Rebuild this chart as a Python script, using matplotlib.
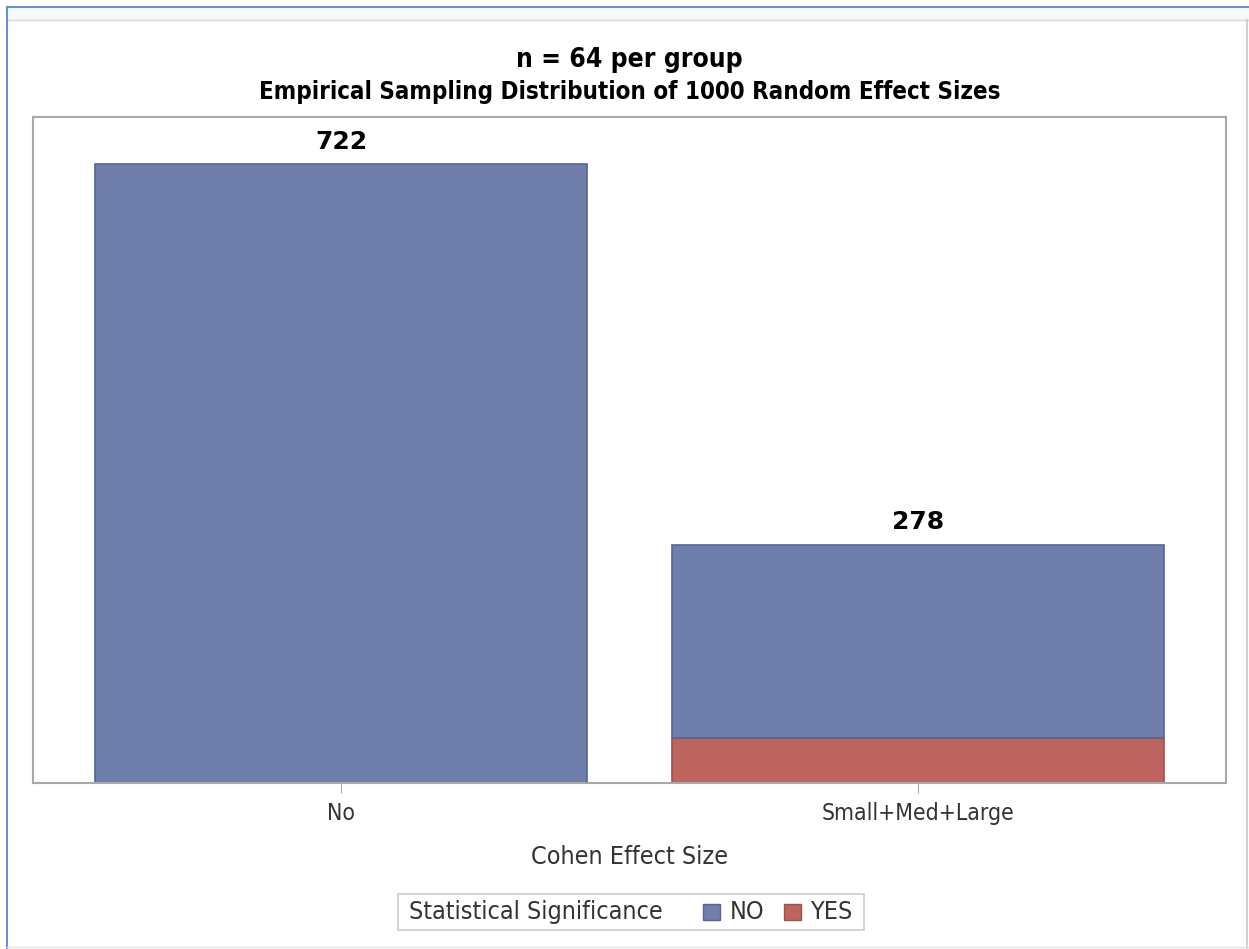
import matplotlib.pyplot as plt
from matplotlib.patches import Rectangle
from matplotlib.lines import Line2D
from matplotlib.offsetbox import AnchoredOffsetbox, HPacker, TextArea, DrawingArea

categories = ["No", "Small+Med+Large"]
sig_no = [722, 226]
sig_yes = [0, 52]
totals = [a + b for a, b in zip(sig_no, sig_yes)]
legend_title = "Statistical Significance"
legend_labels = ["NO", "YES"]

BLUE = "#6f7eaa"
RED = "#be645e"
EDGE_BLUE = "#55659a"
EDGE_RED = "#a04f4a"
TXT = "#333333"
COND = dict(family="DejaVu Sans", stretch="condensed")

W, H = 1249, 949
fig = plt.figure(figsize=(W / 100, H / 100), dpi=100)

# window frame around the graph
fig.patches.append(Rectangle((7 / W, 1 - 20 / H), 1 - 7 / W, 13 / H,
                             transform=fig.transFigure, facecolor="#f6f8fc",
                             edgecolor="none", zorder=0))
fig.lines.append(Line2D([7 / W, 1], [1 - 20 / H, 1 - 20 / H], transform=fig.transFigure,
                        color="#d8d8d8", lw=1))
fig.lines.append(Line2D([7 / W, 1], [1 - 7 / H, 1 - 7 / H], transform=fig.transFigure,
                        color="#6a8fd0", lw=1.5))
fig.lines.append(Line2D([7 / W, 7 / W], [0, 1 - 7 / H], transform=fig.transFigure,
                        color="#6a8fd0", lw=1.5))
fig.lines.append(Line2D([1246.5 / W, 1246.5 / W], [0, 1 - 20 / H], transform=fig.transFigure,
                        color="#d0d0d0", lw=1.5))
fig.lines.append(Line2D([7 / W, 1], [2 / H, 2 / H], transform=fig.transFigure,
                        color="#e4e4e4", lw=1))

ax = fig.add_axes([33 / W, 1 - 783 / H, (1226 - 33) / W, (783 - 117) / H])

x = range(len(categories))
# significant counts sit at the base of the stack
ax.bar(x, sig_yes, width=0.853, color=RED, edgecolor=EDGE_RED, linewidth=1.2, zorder=2)
ax.bar(x, sig_no, bottom=sig_yes, width=0.853, color=BLUE, edgecolor=EDGE_BLUE,
       linewidth=1.2, zorder=2)

for xi, t in zip(x, totals):
    ax.text(xi, t + 12, str(t), ha="center", va="bottom", fontsize=18,
            fontweight="bold", family="DejaVu Sans")

ax.set_xlim(-0.534, 1.534)
ax.set_ylim(0, 777)
ax.set_yticks([])
ax.set_xticks(list(x))
ax.set_xticklabels(categories, fontsize=16.5, color=TXT, **COND)
ax.tick_params(axis="x", length=7, color="#aaaaaa", pad=7)
for s in ax.spines.values():
    s.set_color("#a8a8a8")
    s.set_linewidth(1.5)
ax.set_xlabel("Cohen Effect Size", fontsize=18, color=TXT, labelpad=14, **COND)

fig.text((33 + 1226) / 2 / W, 1 - 60 / H, "n = 64 per group", ha="center", va="center",
         fontsize=19, fontweight="bold", **COND)
fig.text((33 + 1226) / 2 / W, 1 - 92 / H,
         "Empirical Sampling Distribution of 1000 Random Effect Sizes",
         ha="center", va="center", fontsize=17.3, fontweight="bold", **COND)

# legend: title and entries on one row
def swatch(color, edge):
    da = DrawingArea(12, 12, 0, 0)
    da.add_artist(Rectangle((0, 0), 12, 12, facecolor=color, edgecolor=edge, lw=1))
    return da

tprops = dict(fontsize=18, color=TXT, **COND)
items = [TextArea(legend_title, textprops=tprops), DrawingArea(1, 1, 0, 0)]
for lab, c, e in zip(legend_labels, [BLUE, RED], [EDGE_BLUE, EDGE_RED]):
    items.append(HPacker(children=[swatch(c, e), TextArea(lab, textprops=tprops)],
                         sep=7, align="center"))
row = HPacker(children=items, sep=14, align="center")
padded = HPacker(children=[DrawingArea(4.5, 1, 0, 0), row, DrawingArea(4.5, 1, 0, 0)],
                 sep=0, align="center")
leg = AnchoredOffsetbox(loc="center", child=padded, pad=0.4, borderpad=0, frameon=True,
                        bbox_to_anchor=(631 / W, 1 - 912 / H),
                        bbox_transform=fig.transFigure)
leg.patch.set_edgecolor("#cccccc")
leg.patch.set_linewidth(1.2)
fig.add_artist(leg)

fig.savefig("out.png", dpi=100)
